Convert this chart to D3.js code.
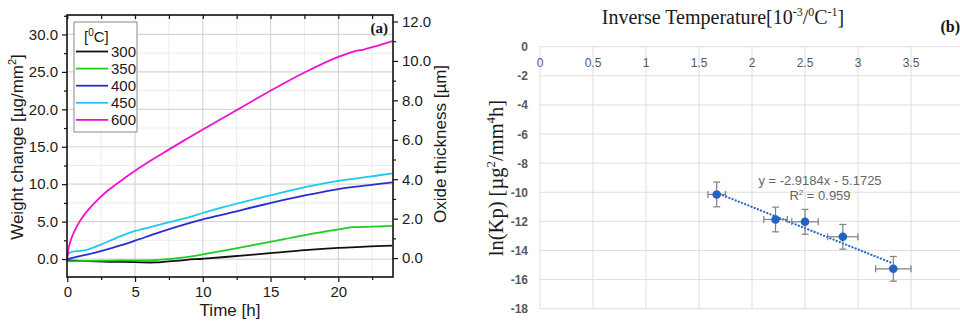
<!DOCTYPE html>
<html>
<head>
<meta charset="utf-8">
<script src="https://cdn.jsdelivr.net/npm/d3@7"></script>
<style>
  html, body { margin: 0; padding: 0; background: #fff; }
  svg { display: block; }
</style>
</head>
<body>
<svg id="chart" width="960" height="322"></svg>
<script>
// ---------- Panel (a): weight gain vs time ----------
const temps = ["300", "350", "400", "450", "600"];
const colors = ["#111111", "#1fcc1f", "#2b2bd6", "#1ec8ee", "#f20fd0"];

// [time h, weight change µg/mm²]
const series300 = [[0,-0.18],[1.5,-0.28],[3.15,-0.36],[5,-0.42],[6.5,-0.45],[8.8,-0.1],[10,0.04],[11.64,0.27],[14.96,0.78],[17.54,1.2],[20,1.5],[22,1.65],[24,1.8]];
const series350 = [[0,-0.3],[1.5,-0.25],[3.15,-0.2],[5,-0.18],[6.5,-0.14],[8.8,0.25],[10,0.62],[11.64,1.15],[14.96,2.3],[17.54,3.2],[20,3.95],[21.1,4.25],[22.46,4.32],[24,4.44]];
const series400 = [[0,0],[0.84,0.35],[2.07,0.85],[3.99,1.85],[5,2.45],[6.84,3.6],[8.8,4.7],[10,5.3],[11.64,6.0],[14.96,7.47],[17.54,8.5],[20,9.35],[22.46,9.9],[24,10.25]];
const series450 = [[0,0.4],[0.15,0.8],[0.4,1.0],[1.0,1.1],[1.58,1.3],[2.56,2.0],[3.99,3.1],[5,3.75],[6.84,4.6],[8.5,5.35],[10,6.15],[11.64,7.0],[14.96,8.5],[17.54,9.6],[20,10.45],[22.46,11.05],[24,11.45]];
const series600 = [[0,0],[0.08,1.3],[0.22,2.3],[0.47,3.5],[0.84,4.8],[1.33,6.1],[2.07,7.6],[2.8,8.85],[3.99,10.5],[5,11.8],[6.84,13.9],[8.44,15.65],[10,17.3],[11.64,19.0],[14.96,22.45],[17.54,24.95],[20,27.0],[21.4,27.85],[21.8,27.95],[24,29.1]];
const seriesA = [series300, series350, series400, series450, series600];

const timeTicks = [0, 5, 10, 15, 20];
const weightTicks = [0, 5, 10, 15, 20, 25, 30];
const thicknessTicks = [0, 2, 4, 6, 8, 10, 12];

// ---------- Panel (b): Arrhenius plot ----------
const invTemp = [1.667, 2.222, 2.5, 2.857, 3.333];
const lnKp = [-10.15, -11.87, -12.03, -13.06, -15.26];
const invTempErr = [0.083, 0.111, 0.125, 0.143, 0.167];
const lnKpErr = [0.85, 0.85, 0.85, 0.85, 0.85];
const fitSlope = -2.9184, fitIntercept = -5.1725, fitR2 = 0.959;
const invTempTicks = [0, 0.5, 1, 1.5, 2, 2.5, 3, 3.5, 4];
const lnKpTicks = [0, -2, -4, -6, -8, -10, -12, -14, -16, -18];

const svg = d3.select("#chart");
const sans = "'Liberation Sans', Arial, sans-serif";
const serif = "'Liberation Serif', 'Times New Roman', serif";

// ===== Panel (a) =====
const A = { left: 67, right: 393, top: 15, bottom: 277 };
const x = d3.scaleLinear().domain([0, 24]).range([A.left + 0.3, A.right - 0.5]);
const y = d3.scaleLinear().domain([-2.4, 32.6]).range([A.bottom, A.top]);
const y2 = d3.scaleLinear().domain([-0.96, 12.33]).range([A.bottom, A.top]);

const ga = svg.append("g");

// minor grid
const minorT = d3.range(2.5, 24, 5);
const minorW = d3.range(-2.5, 33, 5).filter(v => v > -2.4);
ga.append("g").selectAll("line").data(minorT).join("line")
  .attr("x1", d => x(d)).attr("x2", d => x(d)).attr("y1", A.top).attr("y2", A.bottom)
  .attr("stroke", "#ececec").attr("stroke-width", 1);
ga.append("g").selectAll("line").data(minorW).join("line")
  .attr("x1", A.left).attr("x2", A.right).attr("y1", d => y(d)).attr("y2", d => y(d))
  .attr("stroke", "#ececec").attr("stroke-width", 1);
// major grid
ga.append("g").selectAll("line").data(timeTicks.filter(d => d > 0)).join("line")
  .attr("x1", d => x(d)).attr("x2", d => x(d)).attr("y1", A.top).attr("y2", A.bottom)
  .attr("stroke", "#d6d6d6").attr("stroke-width", 1.2);
ga.append("g").selectAll("line").data(weightTicks).join("line")
  .attr("x1", A.left).attr("x2", A.right).attr("y1", d => y(d)).attr("y2", d => y(d))
  .attr("stroke", "#d6d6d6").attr("stroke-width", 1.2);

// curves
const line = d3.line().x(d => x(d[0])).y(d => y(d[1])).curve(d3.curveCatmullRom.alpha(0.5));
ga.append("g").selectAll("path").data(seriesA).join("path")
  .attr("d", line).attr("fill", "none")
  .attr("stroke", (d, i) => colors[i]).attr("stroke-width", 1.8)
  .attr("stroke-linejoin", "round");

// axes
const fmt1 = d3.format(".1f");
ga.append("g").attr("transform", `translate(0,${A.bottom})`)
  .call(d3.axisBottom(x).tickValues(timeTicks).tickSize(5).tickPadding(4).tickFormat(d3.format("d")));
ga.append("g").attr("transform", `translate(0,${A.bottom})`)
  .call(d3.axisBottom(x).tickValues(minorT).tickSize(3).tickFormat(""));
ga.append("g").attr("transform", `translate(0,${A.top})`)
  .call(d3.axisBottom(x).tickValues(timeTicks.concat(minorT)).tickSize(4).tickFormat(""));

ga.append("g").attr("transform", `translate(${A.left},0)`)
  .call(d3.axisLeft(y).tickValues(weightTicks).tickSize(5).tickPadding(4).tickFormat(fmt1));
ga.append("g").attr("transform", `translate(${A.left},0)`)
  .call(d3.axisLeft(y).tickValues(minorW).tickSize(3).tickFormat(""));

ga.append("g").attr("transform", `translate(${A.right},0)`)
  .call(d3.axisRight(y2).tickValues(thicknessTicks).tickSize(5).tickPadding(4).tickFormat(fmt1));
ga.append("g").attr("transform", `translate(${A.right},0)`)
  .call(d3.axisRight(y2).tickValues(d3.range(1, 12.5, 2)).tickSize(3).tickFormat(""));

ga.selectAll(".domain").remove();
ga.selectAll(".tick line").attr("stroke", "#111").attr("stroke-width", 1.2);
ga.selectAll(".tick text").attr("font-family", sans).attr("font-size", 15).attr("fill", "#1a1a1a");

// frame
ga.append("rect").attr("x", A.left).attr("y", A.top)
  .attr("width", A.right - A.left).attr("height", A.bottom - A.top)
  .attr("fill", "none").attr("stroke", "#111").attr("stroke-width", 1.6);

// axis titles
ga.append("text").attr("x", 230).attr("y", 316).attr("text-anchor", "middle")
  .attr("font-family", sans).attr("font-size", 17).attr("fill", "#1a1a1a").text("Time [h]");
const wt = ga.append("text").attr("transform", "translate(23,147) rotate(-90)").attr("text-anchor", "middle")
  .attr("font-family", sans).attr("font-size", 17).attr("fill", "#1a1a1a");
wt.append("tspan").text("Weight change [µg/mm");
wt.append("tspan").attr("font-size", 11).attr("dy", -7).text("2");
wt.append("tspan").attr("dy", 7).text("]");
ga.append("text").attr("transform", "translate(446,144) rotate(-90)").attr("text-anchor", "middle")
  .attr("font-family", sans).attr("font-size", 17).attr("fill", "#1a1a1a").text("Oxide thickness [µm]");
ga.append("text").attr("x", 388).attr("y", 33).attr("text-anchor", "end")
  .attr("font-family", serif).attr("font-weight", "bold").attr("font-size", 15).attr("fill", "#111").text("(a)");

// legend
const lg = ga.append("g");
lg.append("rect").attr("x", 74).attr("y", 22).attr("width", 63).attr("height", 110)
  .attr("fill", "#fff").attr("stroke", "#8a8a8a").attr("stroke-width", 1);
const lt = lg.append("text").attr("x", 84).attr("y", 42)
  .attr("font-family", sans).attr("font-size", 15).attr("fill", "#1a1a1a");
lt.append("tspan").text("[");
lt.append("tspan").attr("font-size", 10).attr("dy", -6).text("0");
lt.append("tspan").attr("dy", 6).text("C]");
const items = lg.selectAll("g.item").data(temps).join("g").attr("class", "item")
  .attr("transform", (d, i) => `translate(0,${51.5 + i * 17.1})`);
items.append("line").attr("x1", 76).attr("x2", 108).attr("y1", 0).attr("y2", 0)
  .attr("stroke", (d, i) => colors[i]).attr("stroke-width", 1.8);
items.append("text").attr("x", 111).attr("y", 5.5)
  .attr("font-family", sans).attr("font-size", 15).attr("fill", "#1a1a1a").text(d => d);

// ===== Panel (b) =====
const B = { left: 540, top: 46.7, bottom: 308.7 };
const bx = d3.scaleLinear().domain([0, 4]).range([B.left, B.left + 424]);
const by = d3.scaleLinear().domain([-18, 0]).range([B.bottom, B.top]);
const gb = svg.append("g");

gb.append("g").selectAll("line").data(invTempTicks).join("line")
  .attr("x1", d => bx(d)).attr("x2", d => bx(d)).attr("y1", B.top).attr("y2", B.bottom)
  .attr("stroke", "#dedede").attr("stroke-width", 1);
gb.append("g").selectAll("line").data(lnKpTicks).join("line")
  .attr("x1", B.left).attr("x2", 964).attr("y1", d => by(d)).attr("y2", d => by(d))
  .attr("stroke", "#dedede").attr("stroke-width", 1);

// x tick labels sit just below the top axis line
gb.append("g").selectAll("text").data(invTempTicks.filter(d => d < 4)).join("text")
  .attr("x", d => bx(d)).attr("y", 67).attr("text-anchor", "middle")
  .attr("font-family", sans).attr("font-size", 12).attr("fill", "#595959")
  .text(d => d3.format("")(d));
gb.append("g").selectAll("text").data(lnKpTicks).join("text")
  .attr("x", 528).attr("y", d => by(d) + 4.5).attr("text-anchor", "end")
  .attr("font-family", sans).attr("font-size", 12).attr("font-weight", "bold").attr("fill", "#595959")
  .text(d => d);

// title
const tt = gb.append("text").attr("x", 723).attr("y", 24).attr("text-anchor", "middle")
  .attr("font-family", serif).attr("font-size", 20).attr("fill", "#1a1a1a");
tt.append("tspan").text("Inverse Temperature[10");
tt.append("tspan").attr("font-size", 12).attr("dy", -8).text("-3");
tt.append("tspan").attr("dy", 8).text("/");
tt.append("tspan").attr("font-size", 12).attr("dy", -8).text("0");
tt.append("tspan").attr("dy", 8).text("C");
tt.append("tspan").attr("font-size", 12).attr("dy", -8).text("-1");
tt.append("tspan").attr("dy", 8).text("]");
gb.append("text").attr("x", 960).attr("y", 32).attr("text-anchor", "end")
  .attr("font-family", serif).attr("font-weight", "bold").attr("font-size", 16).attr("fill", "#111").text("(b)");

// y title
const yt = gb.append("text").attr("transform", "translate(503,178) rotate(-90)").attr("text-anchor", "middle")
  .attr("font-family", serif).attr("font-size", 20.5).attr("fill", "#1a1a1a");
yt.append("tspan").text("ln(Kp) [µg");
yt.append("tspan").attr("font-size", 13).attr("dy", -8).text("2");
yt.append("tspan").attr("dy", 8).text("/mm");
yt.append("tspan").attr("font-size", 13).attr("dy", -8).text("4");
yt.append("tspan").attr("dy", 8).text("h]");

// trendline
const fitX = d3.extent(invTemp);
gb.append("line")
  .attr("x1", bx(fitX[0])).attr("y1", by(fitSlope * fitX[0] + fitIntercept))
  .attr("x2", bx(fitX[1])).attr("y2", by(fitSlope * fitX[1] + fitIntercept))
  .attr("stroke", "#2a66c8").attr("stroke-width", 2.2)
  .attr("stroke-dasharray", "0.1,3.3").attr("stroke-linecap", "round");

// error bars
const pts = invTemp.map((v, i) => ({ x: v, y: lnKp[i], ex: invTempErr[i], ey: lnKpErr[i] }));
const eb = gb.append("g").attr("stroke", "#7f7f7f").attr("stroke-width", 1.2);
pts.forEach(p => {
  eb.append("line").attr("x1", bx(p.x)).attr("x2", bx(p.x)).attr("y1", by(p.y - p.ey)).attr("y2", by(p.y + p.ey));
  eb.append("line").attr("x1", bx(p.x) - 3.5).attr("x2", bx(p.x) + 3.5).attr("y1", by(p.y - p.ey)).attr("y2", by(p.y - p.ey));
  eb.append("line").attr("x1", bx(p.x) - 3.5).attr("x2", bx(p.x) + 3.5).attr("y1", by(p.y + p.ey)).attr("y2", by(p.y + p.ey));
  eb.append("line").attr("x1", bx(p.x - p.ex)).attr("x2", bx(p.x + p.ex)).attr("y1", by(p.y)).attr("y2", by(p.y));
  eb.append("line").attr("x1", bx(p.x - p.ex)).attr("x2", bx(p.x - p.ex)).attr("y1", by(p.y) - 3.5).attr("y2", by(p.y) + 3.5);
  eb.append("line").attr("x1", bx(p.x + p.ex)).attr("x2", bx(p.x + p.ex)).attr("y1", by(p.y) - 3.5).attr("y2", by(p.y) + 3.5);
});

gb.append("g").selectAll("circle").data(pts).join("circle")
  .attr("cx", d => bx(d.x)).attr("cy", d => by(d.y)).attr("r", 4.3)
  .attr("fill", "#2363c4");

// equation
const eq = gb.append("g").attr("font-family", sans).attr("font-size", 13).attr("fill", "#666").attr("text-anchor", "middle");
eq.append("text").attr("x", 820).attr("y", 185)
  .text(`y = ${fitSlope}x - ${Math.abs(fitIntercept)}`);
const r2 = eq.append("text").attr("x", 820).attr("y", 200);
r2.append("tspan").text("R");
r2.append("tspan").attr("font-size", 8).attr("dy", -5).text("2");
r2.append("tspan").attr("dy", 5).text(` = ${fitR2}`);
</script>
</body>
</html>
